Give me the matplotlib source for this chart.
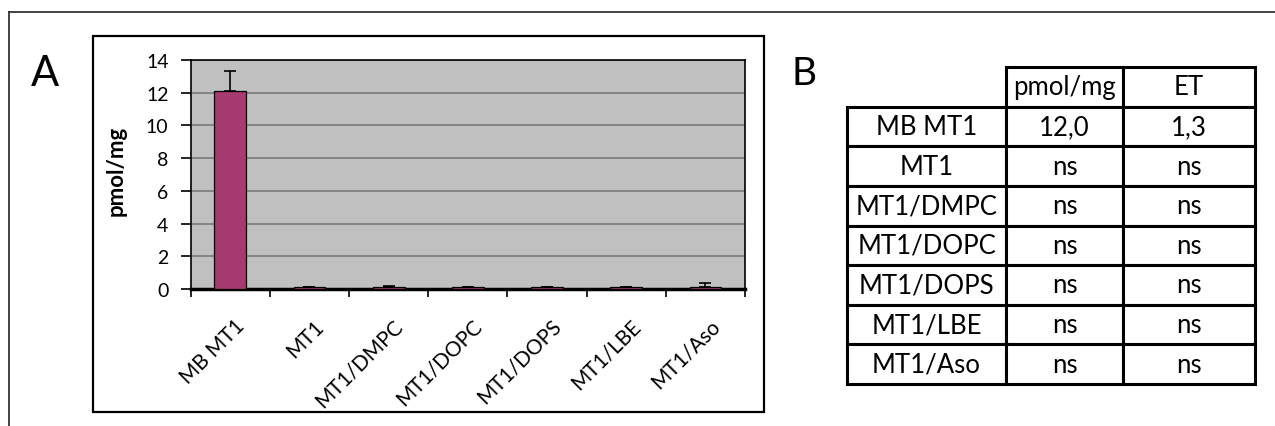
import matplotlib.pyplot as plt
import numpy as np
from matplotlib.patches import Rectangle
from matplotlib.lines import Line2D

plt.rcParams['font.family'] = ['Lato', 'DejaVu Sans']

# Panel A data
groups = ["MB MT1", "MT1", "MT1/DMPC", "MT1/DOPC", "MT1/DOPS", "MT1/LBE", "MT1/Aso"]
values = [12.1, 0.15, 0.15, 0.15, 0.15, 0.15, 0.15]
errors = [1.25, 0.0, 0.03, 0.0, 0.0, 0.0, 0.2]
yticks = [0, 2, 4, 6, 8, 10, 12, 14]

# Panel B table data
col_labels = ["", "pmol/mg", "ET"]
row_names = ["MB MT1", "MT1", "MT1/DMPC", "MT1/DOPC", "MT1/DOPS", "MT1/LBE", "MT1/Aso"]
pmol_col = ["12,0", "ns", "ns", "ns", "ns", "ns", "ns"]
et_col = ["1,3", "ns", "ns", "ns", "ns", "ns", "ns"]

W, H = 1275, 427
fig = plt.figure(figsize=(W / 100, H / 100), dpi=100)


def fx(px):
    return px / W


def fy(py):
    return 1 - py / H


# outer frame (top and left edges only visible)
fig.add_artist(Line2D([fx(9), 1.0], [fy(12.7), fy(12.7)], color='#333333', lw=1.3))
fig.add_artist(Line2D([fx(9), fx(9)], [fy(12.7), 0.0], color='#333333', lw=1.3))

# chart box
fig.add_artist(Rectangle((fx(93), fy(413)), fx(764) - fx(93), fy(37) - fy(413),
                         fill=False, edgecolor='black', lw=1.6))

# panel letters
fig.text(fx(45), fy(74), "A", fontsize=30, ha='center', va='center')
fig.text(fx(804), fy(74), "B", fontsize=28, ha='center', va='center')

# bar chart
ax = fig.add_axes([fx(190.7), fy(290), fx(745) - fx(190.7), fy(61) - fy(290)])
ax.set_facecolor('#c0c0c0')
x = np.arange(len(groups))
ax.bar(x, values, width=0.4, color='#a83a72', edgecolor='black', linewidth=0.9, zorder=3)
ax.errorbar(x, values, yerr=[np.zeros(len(errors)), errors], fmt='none',
            ecolor='black', elinewidth=1.2, capsize=4.3, capthick=1.2, zorder=4)
ax.set_xlim(-0.5, len(groups) - 0.5)
ax.set_ylim(0, 14)
ax.set_yticks(yticks)
ax.set_yticklabels([str(t) for t in yticks], fontsize=14)
ax.yaxis.grid(True, color='#808080', lw=1.3, zorder=1)
ax.set_axisbelow(True)

# category ticks at boundaries, labels at centres
ax.set_xticks(np.arange(len(groups) + 1) - 0.5)
ax.set_xticklabels([])
ax.tick_params(axis='x', direction='out', length=6, width=1.2)
ax.tick_params(axis='y', direction='out', length=7, width=1.2, pad=9)
for i, g in enumerate(groups):
    ax.annotate(g, xy=(i, 0), xycoords=('data', 'axes fraction'),
                xytext=(3, -19), textcoords='offset points',
                rotation=45, ha='right', va='top', rotation_mode='anchor', fontsize=15)

for s in ['top', 'right', 'left']:
    ax.spines[s].set_color('black')
    ax.spines[s].set_linewidth(1.2)
ax.spines['bottom'].set_linewidth(2.5)
ax.spines['bottom'].set_zorder(2)
ax.set_ylabel("pmol/mg", fontsize=16, fontweight='bold')
ax.yaxis.set_label_coords((127 - 190.7) / (745 - 190.7), 0.52)

# table
tax = fig.add_axes([fx(847), fy(385), fx(1255) - fx(847), fy(68) - fy(385)])
tax.axis('off')
cells = [[n, p, e] for n, p, e in zip(row_names, pmol_col, et_col)]
widths = np.array([159, 117, 132], dtype=float)
tbl = tax.table(cellText=cells, colLabels=col_labels, colWidths=list(widths / widths.sum()),
                cellLoc='center', bbox=[0, 0, 1, 1])
tbl.auto_set_font_size(False)
tbl.set_fontsize(18.5)
for (r, c), cell in tbl.get_celld().items():
    cell.set_linewidth(2.2)
    cell.set_edgecolor('black')
    cell.PAD = 0.02
    if r == 0 and c == 0:
        cell.visible_edges = 'open'

fig.savefig("out.png", dpi=100)
